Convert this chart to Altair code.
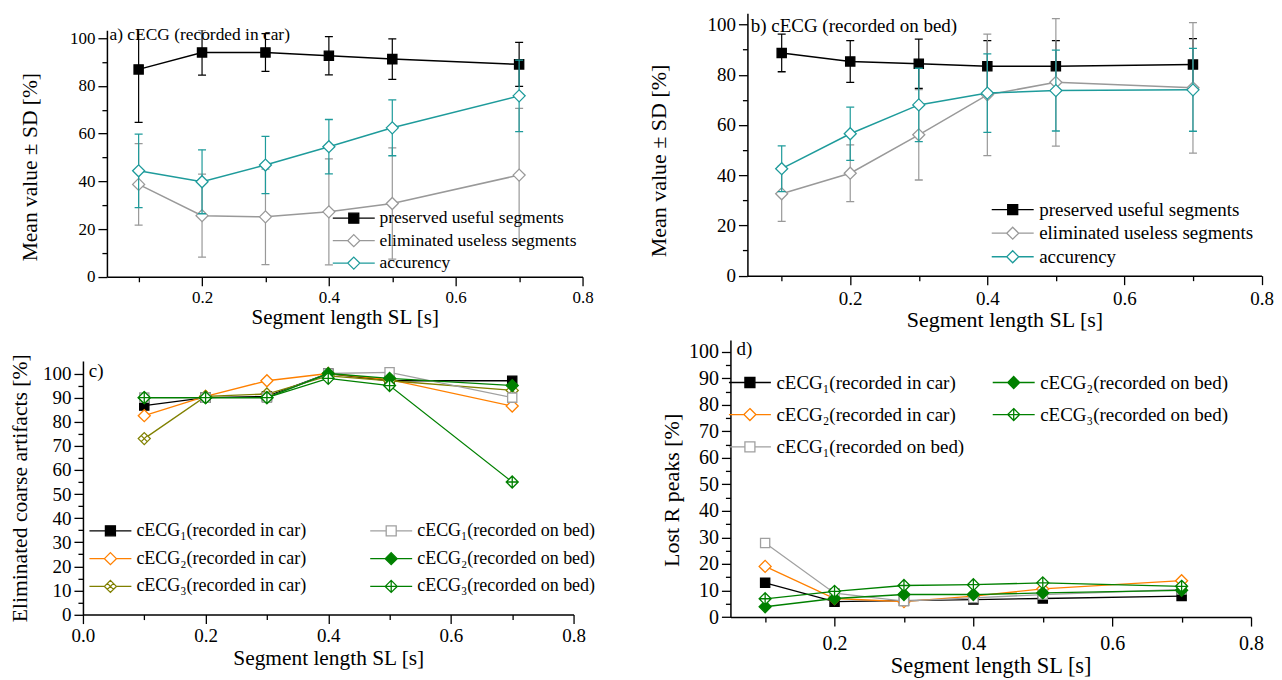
import altair as alt
import pandas as pd

FONT = "Liberation Serif"

# ---------------- data ----------------
SL = [0.1, 0.2, 0.3, 0.4, 0.5, 0.7]

A_NAMES = ["preserved useful segments", "eliminated useless segments", "accurency"]
a_preserved = [86.9, 94.0, 94.0, 92.6, 91.2, 89.0]
a_preserved_sd = [22.2, 9.5, 7.9, 8.0, 8.5, 9.2]
a_eliminated = [38.7, 25.6, 25.1, 27.2, 30.7, 42.6]
a_eliminated_sd = [17.1, 17.4, 20.0, 22.2, 23.3, 28.0]
a_accuracy = [44.4, 39.8, 46.8, 54.5, 62.4, 75.8]
a_accuracy_sd = [15.4, 13.4, 12.0, 11.4, 11.7, 15.0]

b_preserved = [88.7, 85.3, 84.4, 83.4, 83.4, 84.1]
b_preserved_sd = [7.5, 8.3, 9.8, 10.2, 10.2, 10.3]
b_eliminated = [32.6, 40.8, 56.1, 72.0, 77.0, 74.8]
b_eliminated_sd = [11.0, 11.3, 18.0, 24.2, 25.4, 26.0]
b_accuracy = [42.6, 56.5, 68.0, 72.7, 73.7, 74.0]
b_accuracy_sd = [9.1, 10.6, 14.6, 15.6, 16.1, 16.5]

CAR1 = "cECG\u2081(recorded in car)"
CAR2 = "cECG\u2082(recorded in car)"
CAR3 = "cECG\u2083(recorded in car)"
BED1 = "cECG\u2081(recorded on bed)"
BED2 = "cECG\u2082(recorded on bed)"
BED3 = "cECG\u2083(recorded on bed)"

c_car1 = [86.7, 90.0, 90.5, 100.0, 97.0, 97.0]
c_car2 = [82.5, 90.5, 97.0, 100.0, 97.5, 86.5]
c_car3 = [73.0, 90.5, 91.5, 99.0, 97.0, 93.0]
c_bed1 = [90.0, 90.0, 90.0, 100.0, 100.5, 90.0]
c_bed2 = [90.0, 90.0, 90.0, 100.0, 98.0, 95.0]
c_bed3 = [90.0, 90.0, 90.0, 98.0, 95.0, 55.0]

d_car1 = [12.9, 5.8, 6.2, 6.6, 7.0, 7.9]
d_car2 = [19.1, 7.0, 5.8, 7.9, 10.6, 13.7]
d_bed1 = [27.9, 9.0, 6.0, 7.2, 8.5, 10.4]
d_bed2 = [3.9, 7.0, 8.5, 8.5, 9.1, 10.1]
d_bed3 = [6.9, 9.7, 11.9, 12.2, 12.9, 11.6]

# ---------------- marker styles ----------------
DX = "M0,-1L1,0L0,1L-1,0ZM-0.5,-0.5L0.5,0.5M-0.5,0.5L0.5,-0.5"
DP = "M0,-1L1,0L0,1L-1,0ZM0,-1L0,1M-1,0L1,0"
SQ_LEG = "M-4.2,0H-1M1,0H4.2M-1,-1H1V1H-1Z"
DI_LEG = "M-4.2,0H-1.2M1.2,0H4.2M0,-1.2L1.2,0L0,1.2L-1.2,0Z"
DX_LEG = DI_LEG + "M-0.6,-0.6L0.6,0.6M-0.6,0.6L0.6,-0.6"
DP_LEG = "M-4.2,0H4.2M0,-1.2L1.2,0L0,1.2L-1.2,0ZM0,-1.2V1.2"

TEAL = "#1e9b9b"
STYLE = {
    A_NAMES[0]: dict(color="#000000", fill="#000000", shape="square", size=85, leg=SQ_LEG),
    A_NAMES[1]: dict(color="#999999", fill="white", shape="diamond", size=144, leg=DI_LEG),
    A_NAMES[2]: dict(color=TEAL, fill="white", shape="diamond", size=144, leg=DI_LEG),
    CAR1: dict(color="#000000", fill="#000000", shape="square", size=85, leg=SQ_LEG),
    CAR2: dict(color="#ff8000", fill="white", shape="diamond", size=144, leg=DI_LEG),
    CAR3: dict(color="#808000", fill="white", shape=DX, size=144, leg=DX_LEG),
    BED1: dict(color="#a0a0a0", fill="white", shape="square", size=85, leg=SQ_LEG),
    BED2: dict(color="#008000", fill="#008000", shape="diamond", size=144, leg=DI_LEG),
    BED3: dict(color="#008000", fill="white", shape=DP, size=144, leg=DP_LEG),
}

IND = dict(shape="independent", fill="independent", stroke="independent")


def long_df(names, means, sds=None):
    rows = []
    for i, s in enumerate(names):
        for j, x in enumerate(SL):
            r = {"x": x, "y": means[i][j], "series": s}
            if sds is not None:
                r["lo"] = means[i][j] - sds[i][j]
                r["hi"] = means[i][j] + sds[i][j]
            rows.append(r)
    return pd.DataFrame(rows)


def panel(df, names, legend_order, *, xdom, xvals, ydom, yvals, ymajor,
          w, h, ytitle, tick_fs, ytitle_fs, xtitle_fs, ytitle_pad,
          xlabel_pad, xtitle_pad, leg_x, leg_y, leg_fs, leg_rowpad,
          leg_cols=1, leg_colpad=0, label="", label_x=0, label_y=0, label_fs=18,
          errbars=False, lw=1.5, leg_laboff=17, ytitle_y=None):
    xaxis = alt.Axis(
        values=xvals,
        labelExpr="round(datum.value*10) % 2 == 0 ? format(datum.value, '.1f') : ''",
        tickSize={"condition": {"test": "round(datum.value*10) % 2 == 0", "value": 9}, "value": 5},
        labelFontSize=tick_fs, titleFontSize=xtitle_fs, labelPadding=xlabel_pad,
        titlePadding=xtitle_pad,
    )
    ykw = {} if ytitle_y is None else {"titleY": ytitle_y}
    yaxis = alt.Axis(
        values=yvals,
        labelExpr=f"datum.value % {ymajor} == 0 ? datum.label : ''",
        tickSize={"condition": {"test": f"datum.value % {ymajor} == 0", "value": 9}, "value": 5},
        labelFontSize=tick_fs, titleFontSize=ytitle_fs, labelPadding=3,
        titlePadding=ytitle_pad, **ykw,
    )
    xs = alt.Scale(domain=xdom, nice=False, zero=False)
    ys = alt.Scale(domain=ydom, nice=False, zero=False)
    XT = "Segment length SL [s]"

    def X(f="x"):
        return alt.X(f"{f}:Q", scale=xs, axis=xaxis, title=XT)

    def Y(f="y"):
        return alt.Y(f"{f}:Q", scale=ys, axis=yaxis, title=ytitle)

    base = alt.Chart(df)
    layers = []
    for s in names:
        st = STYLE[s]
        sub = base.transform_filter(alt.datum.series == s)
        if errbars:
            layers.append(sub.mark_rule(strokeWidth=1.2, clip=True, color=st["color"]).encode(
                x=X(), y=Y("lo"), y2="hi:Q"))
            for f in ("lo", "hi"):
                layers.append(sub.mark_tick(orient="horizontal", size=8, thickness=1.3,
                                            opacity=1, clip=True, color=st["color"]).encode(
                    x=X(), y=Y(f)))
        layers.append(sub.mark_line(strokeWidth=lw, color=st["color"]).encode(
            x=X(), y=Y(), order="x:Q"))
        layers.append(
            sub.mark_point(shape=st["shape"], size=st["size"], filled=True, fill=st["fill"],
                           stroke=st["color"], strokeWidth=1.3, opacity=1)
            .encode(x=X(), y=Y())
        )
    # legend-only layer (no drawable rows)
    leg_df = pd.DataFrame({"leg": legend_order, "x": [float("nan")] * len(legend_order),
                           "y": [float("nan")] * len(legend_order)})
    lg = alt.Legend(orient="none", legendX=leg_x, legendY=leg_y, title=None,
                    symbolSize=100, symbolStrokeWidth=1.3, symbolOffset=16,
                    labelOffset=leg_laboff, labelFont=FONT, labelFontSize=leg_fs,
                    labelColor="black", rowPadding=leg_rowpad, columns=leg_cols,
                    columnPadding=leg_colpad, padding=0, labelLimit=500)
    layers.append(
        alt.Chart(leg_df).mark_point(opacity=1, strokeWidth=1.3, filled=True).encode(
            x=X(), y=Y(),
            shape=alt.Shape("leg:N", scale=alt.Scale(domain=legend_order,
                            range=[STYLE[s]["leg"] for s in legend_order]), legend=lg),
            fill=alt.Fill("leg:N", scale=alt.Scale(domain=legend_order,
                          range=[STYLE[s]["fill"] for s in legend_order]), legend=lg),
            stroke=alt.Stroke("leg:N", scale=alt.Scale(domain=legend_order,
                              range=[STYLE[s]["color"] for s in legend_order]), legend=lg),
        )
    )
    layers.append(
        alt.Chart(pd.DataFrame({"t": [label]})).mark_text(
            align="left", baseline="middle", font=FONT, fontSize=label_fs, color="black"
        ).encode(text="t:N", x=alt.value(label_x), y=alt.value(label_y))
    )
    return alt.layer(*layers).properties(width=w, height=h)


def spacer(w, h):
    return alt.Chart(pd.DataFrame({"v": [0]})).mark_point(size=1, opacity=0).properties(
        width=w, height=h)


X_TICKS = [0.1, 0.2, 0.3, 0.4, 0.5, 0.6, 0.7, 0.8]
X_TICKS_C = [0.0] + X_TICKS

df_a = long_df(A_NAMES, [a_preserved, a_eliminated, a_accuracy],
               [a_preserved_sd, a_eliminated_sd, a_accuracy_sd])
df_b = long_df(A_NAMES, [b_preserved, b_eliminated, b_accuracy],
               [b_preserved_sd, b_eliminated_sd, b_accuracy_sd])
C_NAMES = [CAR1, CAR2, CAR3, BED1, BED2, BED3]
df_c = long_df(C_NAMES, [c_car1, c_car2, c_car3, c_bed1, c_bed2, c_bed3])
D_NAMES = [CAR1, CAR2, BED1, BED2, BED3]
df_d = long_df(D_NAMES, [d_car1, d_car2, d_bed1, d_bed2, d_bed3])

pa = panel(df_a, A_NAMES, A_NAMES, xdom=[0.05, 0.8], xvals=X_TICKS, ydom=[0, 103.3],
           yvals=list(range(0, 101, 10)), ymajor=20, w=476, h=246.7,
           ytitle="Mean value  \u00b1 SD [%]", tick_fs=17, ytitle_fs=21.5, xtitle_fs=21,
           ytitle_pad=27.5, xlabel_pad=4, xtitle_pad=1, ytitle_y=136.5,
           leg_x=222.3, leg_y=179.3, leg_fs=17.5, leg_rowpad=3.5,
           label="a) cECG (recorded in car)", label_x=2.6, label_y=5, label_fs=17.4,
           errbars=True)
pb = panel(df_b, A_NAMES, A_NAMES, xdom=[0.05, 0.8], xvals=X_TICKS, ydom=[0, 104.5],
           yvals=list(range(0, 101, 10)), ymajor=20, w=514.5, h=262.6,
           ytitle="Mean value \u00b1 SD [%]", tick_fs=19, ytitle_fs=22, xtitle_fs=22,
           ytitle_pad=36.4, xlabel_pad=4.5, xtitle_pad=1.2, ytitle_y=147.3,
           leg_x=240, leg_y=187, leg_fs=19, leg_rowpad=3.6,
           label="b) cECG (recorded on bed)", label_x=3.3, label_y=12.3, label_fs=19,
           errbars=True)
pc = panel(df_c, C_NAMES, [CAR1, CAR2, CAR3, BED1, BED2, BED3], xdom=[0.0, 0.8],
           xvals=X_TICKS_C, ydom=[0, 105.2], yvals=list(range(0, 101, 5)), ymajor=10,
           w=491, h=253.8, ytitle="Eliminated coarse artifacts [%]", tick_fs=19,
           ytitle_fs=21.6, xtitle_fs=21.4, ytitle_pad=10.6,
           xlabel_pad=3.2, xtitle_pad=1.8, leg_x=2.5, leg_y=161, leg_fs=18,
           leg_rowpad=9.8, leg_cols=2, leg_colpad=59,
           label="c)", label_x=5.8, label_y=10, label_fs=19, lw=1.3)
pd_ = panel(df_d, D_NAMES, [CAR1, CAR2, BED1, BED2, BED3], xdom=[0.05, 0.8],
            xvals=X_TICKS, ydom=[0, 104.4], yvals=list(range(0, 101, 5)), ymajor=10,
            w=521, h=277.3, ytitle="Lost R peaks [%]", tick_fs=20, ytitle_fs=22,
            xtitle_fs=22.5, ytitle_pad=5, xlabel_pad=7, xtitle_pad=1.7, ytitle_y=150,
            leg_x=-6, leg_y=32.8, leg_fs=19, leg_rowpad=12.3, leg_cols=2, leg_colpad=23,
            label="d)", label_x=6, label_y=9, label_fs=19, lw=1.3)

wa = alt.vconcat(spacer(1, 12.3), pa, spacing=0).resolve_scale(**IND)
row1 = alt.hconcat(
    alt.hconcat(spacer(12, 1), wa, spacing=0).resolve_scale(**IND),
    pb, spacing=54,
).resolve_scale(**IND)
wc = alt.vconcat(spacer(1, 12.7), pc, spacing=0).resolve_scale(**IND)
row2 = alt.hconcat(
    alt.hconcat(spacer(1, 1), wc, spacing=0).resolve_scale(**IND),
    pd_, spacing=64,
).resolve_scale(**IND)

chart = (
    alt.vconcat(row1, row2, spacing=9)
    .resolve_scale(**IND)
    .properties(padding={"left": 0, "top": 5, "right": 0, "bottom": 0})
    .configure_view(strokeWidth=0)
    .configure_axis(domainColor="black", domainWidth=1.5, tickColor="black", tickWidth=1.3,
                    labelColor="black", titleColor="black", labelFont=FONT, titleFont=FONT,
                    titleFontWeight="normal", grid=False, labelFlush=False,
                    labelOverlap=False)
)

chart.save("out.html", embed_options={"renderer": "svg", "actions": False})
